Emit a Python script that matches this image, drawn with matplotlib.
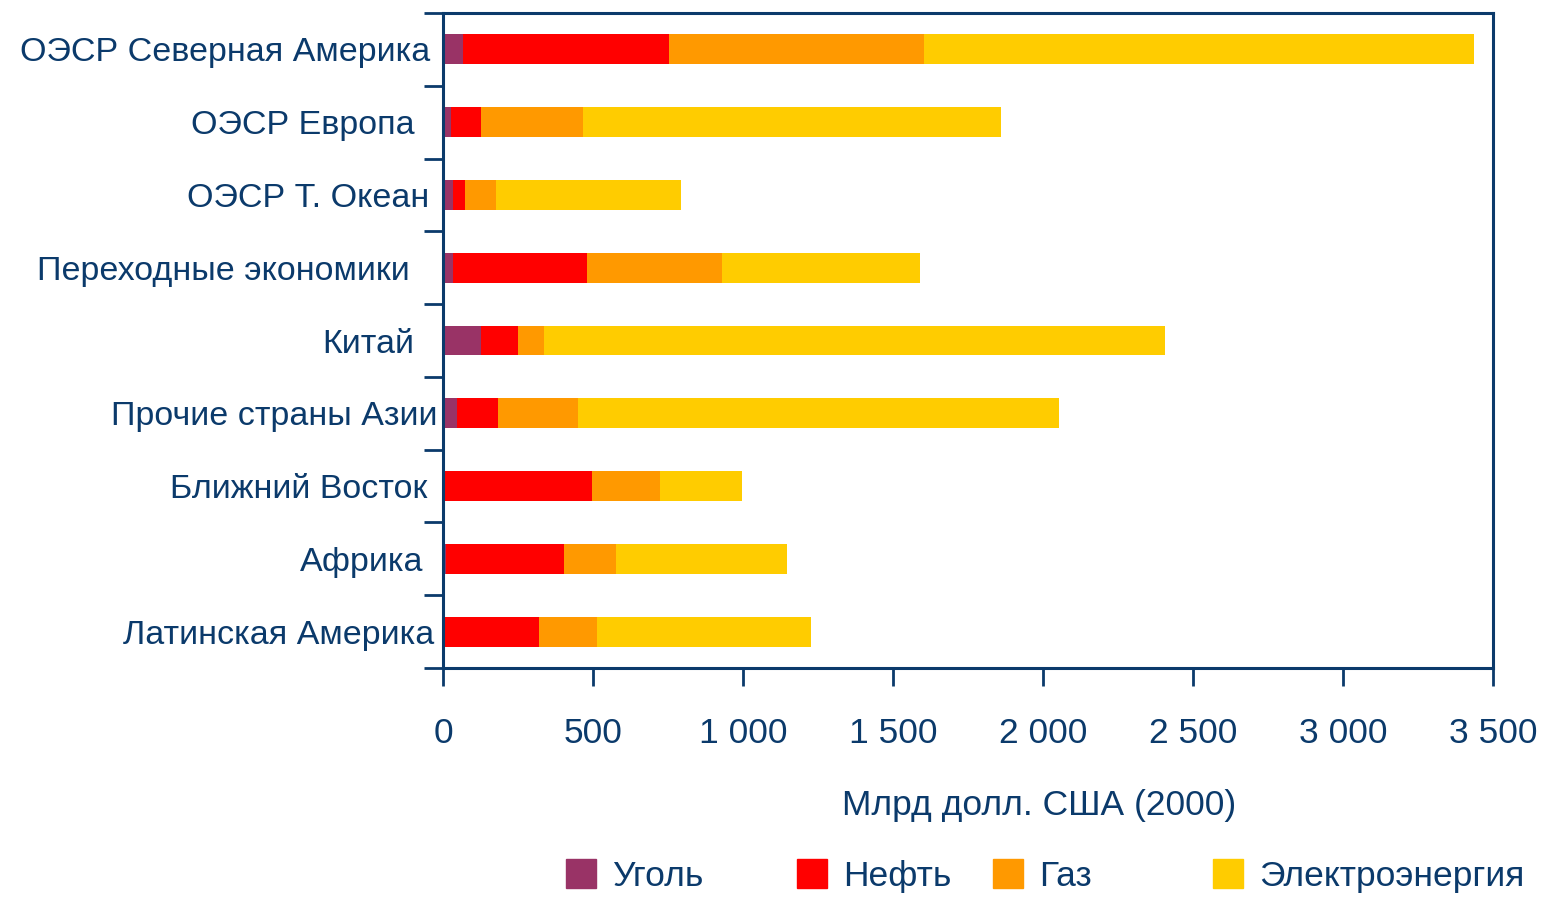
import matplotlib.pyplot as plt
from matplotlib.ticker import FuncFormatter, FixedLocator
from matplotlib.patches import Patch
from matplotlib.transforms import ScaledTranslation

plt.rcParams['font.family'] = ['Liberation Sans Narrow', 'Liberation Sans', 'DejaVu Sans']

regions = ['ОЭСР Северная Америка', 'ОЭСР Европа', 'ОЭСР Т. Океан',
           'Переходные экономики', 'Китай', 'Прочие страны Азии',
           'Ближний Восток', 'Африка', 'Латинская Америка']
coal = [67, 27, 33, 33, 127, 47, 4, 10, 6]
oil = [686, 100, 40, 447, 123, 136, 493, 393, 314]
gas = [850, 340, 104, 450, 87, 267, 226, 174, 193]
elec = [1834, 1393, 616, 660, 2070, 1603, 274, 570, 714]
series_names = ['Уголь', 'Нефть', 'Газ', 'Электроэнергия']
colors = ['#993366', '#FF0000', '#FF9900', '#FFCC00']

navy = '#0B3A6B'
txt = '#0B3A6B'

fig = plt.figure(figsize=(15.41, 8.97), dpi=100)
ax = fig.add_axes([443 / 1541, 1 - 668 / 897, 1050 / 1541, 655 / 897])

y = list(range(len(regions)))
left = [0] * len(regions)
for vals, c, name in zip([coal, oil, gas, elec], colors, series_names):
    ax.barh(y, vals, left=left, height=0.41, color=c, label=name)
    left = [a + b for a, b in zip(left, vals)]

ax.set_ylim(len(regions) - 0.5, -0.5)
ax.set_xlim(0, 3500)

ax.set_yticks(y)
ax.set_yticklabels(regions, fontsize=24.5, color=txt)
ax.tick_params(axis='y', which='major', length=0, pad=9)
# the original labels are not neatly right-aligned
shifts = [0, -16, -1, -21, -16, 7, -3, -7, 4]
for lab, dx in zip(ax.get_yticklabels(), shifts):
    lab.set_transform(lab.get_transform() + ScaledTranslation(dx / 100, 0, fig.dpi_scale_trans))
ax.yaxis.set_minor_locator(FixedLocator([i - 0.5 for i in range(len(regions) + 1)]))
ax.tick_params(axis='y', which='minor', length=14, width=2, color=navy, direction='out')

ax.set_xticks(range(0, 3501, 500))
ax.xaxis.set_major_formatter(FuncFormatter(lambda v, p: f'{int(v):,}'.replace(',', ' ')))
ax.tick_params(axis='x', length=13, width=2, color=navy, direction='out',
               labelsize=25.5, labelcolor=txt, pad=22)

for s in ax.spines.values():
    s.set_color(navy)
    s.set_linewidth(2.2)

ax.set_xlabel('Млрд долл. США (2000)', fontsize=25.5, color=txt)
ax.xaxis.set_label_coords(0.568, -0.185)

# legend entries sit at uneven spacing in the original
leg_x = [566, 797, 993, 1213]
for c, n, lx in zip(colors, series_names, leg_x):
    leg = fig.legend(handles=[Patch(color=c, label=n)], loc='center left',
                     bbox_to_anchor=(lx / 1541, 1 - 876 / 897), frameon=False,
                     fontsize=25.5, labelcolor=txt, borderpad=0, borderaxespad=0,
                     handlelength=0.85, handleheight=0.85, handletextpad=0.45)

fig.savefig('out.png', dpi=100)
